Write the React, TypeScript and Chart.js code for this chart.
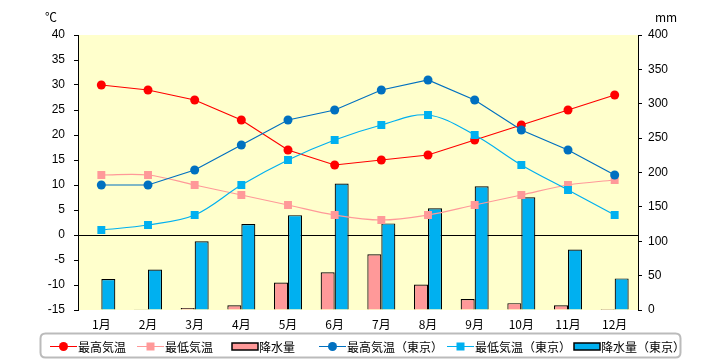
import { useEffect, useRef } from "react";
import { Chart, registerables } from "chart.js";
Chart.register(...registerables);

const months = ["1月", "2月", "3月", "4月", "5月", "6月", "7月", "8月", "9月", "10月", "11月", "12月"];
const maxTemp = [30, 29, 27, 23, 17, 14, 15, 16, 19, 22, 25, 28];
const minTemp = [12, 12, 10, 8, 6, 4, 3, 4, 6, 8, 10, 11];
const precip = [0, 1, 3, 7, 40, 55, 81, 37, 16, 10, 7, 1.5];
const tokyoMax = [10, 10, 13, 18, 23, 25, 29, 31, 27, 21, 17, 12];
const tokyoMin = [1, 2, 4, 10, 15, 19, 22, 24, 20, 14, 9, 4];
const tokyoPrecip = [45, 59, 100, 125, 138, 184, 126, 148, 180, 164, 88, 46];
const seriesNames = ["最高気温", "最低気温", "降水量", "最高気温（東京）", "最低気温（東京）", "降水量（東京）"];

const RED = "#FF0000";
const PINK = "#FF9999";
const DBLUE = "#0070C0";
const LBLUE = "#00B0F0";
const JP = "'Noto Sans CJK JP', sans-serif";
const NUM = "'Liberation Sans Narrow', 'Liberation Sans', sans-serif";

const decor = {
  id: "decor",
  beforeDraw(chart: any) {
    const { ctx, chartArea } = chart;
    const { left, top, right, bottom } = chartArea;
    ctx.save();
    ctx.fillStyle = "#FFFFCC";
    ctx.fillRect(left, top, right - left, bottom - top);
    ctx.restore();
  },
  beforeDatasetsDraw(chart: any) {
    const { ctx, chartArea, scales } = chart;
    const y = Math.round(scales.y.getPixelForValue(0)) + 0.5;
    ctx.save();
    ctx.strokeStyle = "#000";
    ctx.lineWidth = 1;
    ctx.beginPath();
    ctx.moveTo(chartArea.left, y);
    ctx.lineTo(chartArea.right, y);
    ctx.stroke();
    ctx.restore();
  },
  afterDraw(chart: any) {
    const { ctx } = chart;
    ctx.save();
    ctx.fillStyle = "#000";
    ctx.font = `12px ${JP}`;
    ctx.textBaseline = "middle";
    ctx.textAlign = "left";
    ctx.fillText("℃", 45, 17);
    ctx.fillText("mm", 655, 17);

    // legend box
    const bx = 40.5, by = 333.5, bw = 640, bh = 24, r = 5;
    ctx.strokeStyle = "#BBBBBB";
    ctx.lineWidth = 2;
    ctx.beginPath();
    ctx.moveTo(bx + r, by);
    ctx.lineTo(bx + bw - r, by);
    ctx.quadraticCurveTo(bx + bw, by, bx + bw, by + r);
    ctx.lineTo(bx + bw, by + bh - r);
    ctx.quadraticCurveTo(bx + bw, by + bh, bx + bw - r, by + bh);
    ctx.lineTo(bx + r, by + bh);
    ctx.quadraticCurveTo(bx, by + bh, bx, by + bh - r);
    ctx.lineTo(bx, by + r);
    ctx.quadraticCurveTo(bx, by, bx + r, by);
    ctx.stroke();

    const cy = 346;
    const lineItem = (x0: number, color: string, shape: string, text: string) => {
      ctx.strokeStyle = color;
      ctx.lineWidth = 1;
      ctx.beginPath();
      ctx.moveTo(x0, cy + 0.5);
      ctx.lineTo(x0 + 27, cy + 0.5);
      ctx.stroke();
      ctx.fillStyle = color;
      const mx = x0 + 13.5;
      if (shape === "circle") {
        ctx.beginPath();
        ctx.arc(mx, cy + 0.5, 4.5, 0, Math.PI * 2);
        ctx.fill();
      } else {
        ctx.fillRect(mx - 4, cy - 3.5, 8, 8);
      }
      ctx.fillStyle = "#000";
      ctx.fillText(text, x0 + 28, cy + 1);
    };
    const barItem = (x0: number, color: string, text: string) => {
      ctx.fillStyle = color;
      ctx.fillRect(x0, cy - 3, 26, 7);
      ctx.strokeStyle = "#000";
      ctx.lineWidth = 1.5;
      ctx.strokeRect(x0, cy - 3, 26, 7);
      ctx.fillStyle = "#000";
      ctx.fillText(text, x0 + 27, cy + 1);
    };
    lineItem(50, RED, "circle", seriesNames[0]);
    lineItem(137, PINK, "rect", seriesNames[1]);
    barItem(232, PINK, seriesNames[2]);
    lineItem(319, DBLUE, "circle", seriesNames[3]);
    lineItem(447, LBLUE, "rect", seriesNames[4]);
    barItem(574, LBLUE, seriesNames[5]);
    ctx.restore();
  },
};

export default function App() {
  const ref = useRef<HTMLCanvasElement | null>(null);
  useEffect(() => {
    document.body.style.margin = "0";
    const canvas = ref.current!;
    const chart = new Chart(canvas, {
      type: "bar",
      data: {
        labels: months,
        datasets: [
          {
            type: "line", label: seriesNames[0], data: maxTemp, yAxisID: "y", order: 4,
            borderColor: RED, backgroundColor: RED, borderWidth: 1.2, pointStyle: "circle",
            pointRadius: 4.5, pointBorderWidth: 0, tension: 0,
          },
          {
            type: "line", label: seriesNames[1], data: minTemp, yAxisID: "y", order: 3,
            borderColor: PINK, backgroundColor: PINK, borderWidth: 1.2, pointStyle: "rect",
            pointRadius: 5.6, pointBorderWidth: 0, tension: 0.35,
          },
          {
            type: "bar", label: seriesNames[2], data: precip, yAxisID: "y2", order: 5,
            backgroundColor: PINK, borderColor: "#000", borderWidth: 1.2,
            categoryPercentage: 0.6, barPercentage: 1,
          },
          {
            type: "line", label: seriesNames[3], data: tokyoMax, yAxisID: "y", order: 2,
            borderColor: DBLUE, backgroundColor: DBLUE, borderWidth: 1.2, pointStyle: "circle",
            pointRadius: 4.5, pointBorderWidth: 0, tension: 0,
          },
          {
            type: "line", label: seriesNames[4], data: tokyoMin, yAxisID: "y", order: 1,
            borderColor: LBLUE, backgroundColor: LBLUE, borderWidth: 1.2, pointStyle: "rect",
            pointRadius: 5.6, pointBorderWidth: 0, tension: 0.35,
          },
          {
            type: "bar", label: seriesNames[5], data: tokyoPrecip, yAxisID: "y2", order: 6,
            backgroundColor: LBLUE, borderColor: "#000", borderWidth: 1.2,
            categoryPercentage: 0.6, barPercentage: 1,
          },
        ] as any,
      },
      options: {
        responsive: false,
        animation: false,
        layout: { padding: { top: 35, left: 0, right: 0, bottom: 0 } },
        plugins: { legend: { display: false }, tooltip: { enabled: false } },
        scales: {
          x: {
            grid: { display: false, drawTicks: false },
            border: { display: false },
            ticks: { color: "#000", font: { family: JP, size: 12 }, padding: 7 },
            afterFit: (s: any) => { s.height = 50; },
          },
          y: {
            position: "left", min: -15, max: 40,
            ticks: { stepSize: 5, color: "#000", font: { family: NUM, size: 12 }, padding: 9 },
            grid: { drawOnChartArea: false, tickLength: 4, color: "#000" },
            border: { color: "#000", width: 1 },
            afterFit: (s: any) => { s.width = 78; },
          },
          y2: {
            position: "right", min: 0, max: 400,
            ticks: { stepSize: 50, color: "#000", font: { family: NUM, size: 12 }, padding: 6 },
            grid: { drawOnChartArea: false, tickLength: 4, color: "#000" },
            border: { color: "#000", width: 1 },
            afterFit: (s: any) => { s.width = 82; },
          },
        },
      } as any,
      plugins: [decor],
    });
    return () => chart.destroy();
  }, []);
  return (
    <div style={{ position: "absolute", left: 0, top: 0, width: 720, height: 360 }}>
      <canvas ref={ref} width={720} height={360} style={{ display: "block" }} />
    </div>
  );
}
